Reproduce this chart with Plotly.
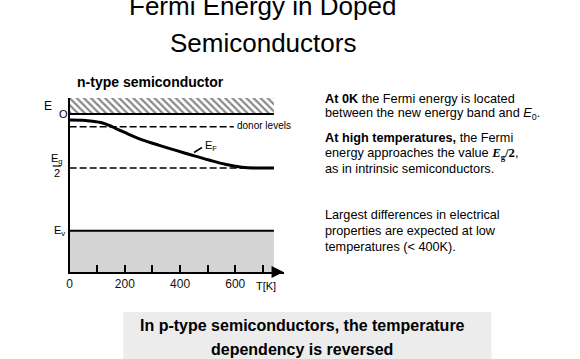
import plotly.graph_objects as go

# ---------------- data ----------------
T_fermi = [0, 47, 83, 119, 144, 166, 191, 216, 263, 325, 382, 444, 505, 563, 624, 682, 740]
E_fermi = [-0.111, -0.117, -0.135, -0.167, -0.213, -0.265, -0.324, -0.38, -0.478, -0.58,
           -0.67, -0.763, -0.852, -0.931, -0.985, -1.0, -1.0]

E_band_top = 0.296      # top of hatched band
E_0 = 0.0               # lower edge of the new energy band
E_donor = -0.235        # donor levels
E_half = -1.0           # Eg/2
E_v = -2.16             # valence band edge
E_bottom = -2.926       # bottom of the frame

T_end = 740             # right end of bands / lines
T_donor_end = 595       # donor dashes end before label
T_axis_max = 775

tick_vals = [0, 200, 400, 600]
tick_text = ["0", "200", "400", "600"]
minor_step = 100

W, H = 580, 359
def px(x):
    return x / W
def py(y):
    return 1 - y / H

FONT = "Liberation Sans, Arial, sans-serif"

fig = go.Figure()

# hatched conduction band
fig.add_trace(go.Scatter(
    x=[0, T_end, T_end, 0, 0], y=[E_0, E_0, E_band_top, E_band_top, E_0],
    fill="toself", mode="lines", line=dict(width=0, color="rgba(0,0,0,0)"),
    fillcolor="white",
    fillpattern=dict(shape="\\", fgcolor="#111111", bgcolor="white", size=5, solidity=0.45),
    hoverinfo="skip", showlegend=False))
fig.add_trace(go.Scatter(x=[0, T_end], y=[E_0, E_0], mode="lines",
                         line=dict(color="black", width=2), showlegend=False))

# valence band (gray)
fig.add_trace(go.Scatter(
    x=[0, T_end, T_end, 0, 0], y=[E_bottom, E_bottom, E_v, E_v, E_bottom],
    fill="toself", mode="lines", line=dict(width=0, color="rgba(0,0,0,0)"),
    fillcolor="#d4d4d4", hoverinfo="skip", showlegend=False))
fig.add_trace(go.Scatter(x=[0, T_end], y=[E_v, E_v], mode="lines",
                         line=dict(color="black", width=2), showlegend=False))

# dashed levels
fig.add_trace(go.Scatter(x=[0, T_donor_end], y=[E_donor, E_donor], mode="lines",
                         line=dict(color="black", width=1.5, dash="7px,3px"), showlegend=False))
fig.add_trace(go.Scatter(x=[0, T_end], y=[E_half, E_half], mode="lines",
                         line=dict(color="black", width=1.5, dash="7px,3px"), showlegend=False))

# Fermi energy curve
fig.add_trace(go.Scatter(x=T_fermi, y=E_fermi, mode="lines", line_shape="spline",
                         line=dict(color="black", width=3), showlegend=False))

x0, x1 = 67, 282
y_top, y_bot = 98, 272

fig.update_layout(
    width=W, height=H, margin=dict(l=0, r=0, t=0, b=0),
    paper_bgcolor="white", plot_bgcolor="white",
    font=dict(family=FONT, color="black"),
    xaxis=dict(domain=[px(x0), px(x1)], range=[0, T_axis_max], showgrid=False, zeroline=False,
               showline=True, linecolor="black", linewidth=2,
               tickmode="array", tickvals=tick_vals, ticktext=tick_text,
               ticks="inside", ticklen=7, tickwidth=2, tickcolor="black",
               minor=dict(dtick=minor_step, tick0=0, ticks="inside", ticklen=7, tickwidth=2,
                          tickcolor="black", showgrid=False),
               tickfont=dict(size=12, family=FONT, color="#111")),
    yaxis=dict(domain=[py(y_bot), py(y_top)], range=[E_bottom, E_band_top], showgrid=False,
               zeroline=False, showline=True, linecolor="black", linewidth=2,
               showticklabels=False, ticks=""),
)

ann = []
def T(x, y, text, size=12, xa="left", ya="middle", color="black", family=FONT):
    ann.append(dict(x=px(x), y=py(y), xref="paper", yref="paper", text=text, showarrow=False,
                    xanchor=xa, yanchor=ya, align=xa if xa != "center" else "center",
                    font=dict(size=size, color=color, family=family)))

# title
T(261, 6, "Fermi Energy in Doped", size=26, xa="center")
T(261, 43, "Semiconductors", size=26, xa="center")
T(72, 82, "<b>n-type semiconductor</b>", size=14)

# y labels
T(45, 106, "E", size=12, xa="center")
T(61, 114, "O", size=11, xa="center")
T(54, 159, "E<sub>g</sub>", size=11, xa="center")
T(54, 173, "2", size=11, xa="center")
T(57, 231, "E<sub>v</sub>", size=11, xa="center")
T(233, 125, "donor levels", size=10)
T(201, 146, "E<sub>F</sub>", size=11)
T(252, 286, "T[K]", size=11)

# right text
RS = 12.7
T(322, 99, "<b>At 0K</b> the Fermi energy is located", size=RS)
T(322, 114, "between the new energy band and <i>E</i><sub>0</sub>.", size=RS)
T(322, 138, "<b>At high temperatures,</b> the Fermi", size=RS)
T(322, 154, "energy approaches the value <span style=\"font-family:'Liberation Serif'\"><b><i>E</i><sub>g</sub>/2</b></span>,", size=RS)
T(322, 169, "as in intrinsic semiconductors.", size=RS)
T(322, 215, "Largest differences in electrical", size=RS)
T(322, 231, "properties are expected at low", size=RS)
T(322, 247, "temperatures (< 400K).", size=RS)

# bottom box text
T(301, 325, "<b>In p-type semiconductors, the temperature</b>", size=16, xa="center")
T(301, 349, "<b>dependency is reversed</b>", size=16, xa="center")

# x-axis arrow head
ann.append(dict(x=T_axis_max, y=E_bottom, xref="x", yref="y", ax=T_axis_max - 30, ay=E_bottom,
                axref="x", ayref="y", showarrow=True, arrowhead=2, arrowsize=1.2, arrowwidth=2,
                arrowcolor="black", text=" "))

fig.update_layout(annotations=ann)

fig.update_layout(shapes=[
    dict(type="rect", xref="paper", yref="paper", x0=px(121), x1=px(491), y0=py(359), y1=py(312),
         fillcolor="#ececec", line=dict(width=0), layer="below"),
    dict(type="line", xref="paper", yref="paper", x0=px(50), x1=px(58), y0=py(166), y1=py(166),
         line=dict(color="black", width=1.2)),
    dict(type="line", xref="paper", yref="paper", x0=px(192), x1=px(200), y0=py(152.5), y1=py(147.5),
         line=dict(color="black", width=1.5)),
])

fig.write_html("out.html")
